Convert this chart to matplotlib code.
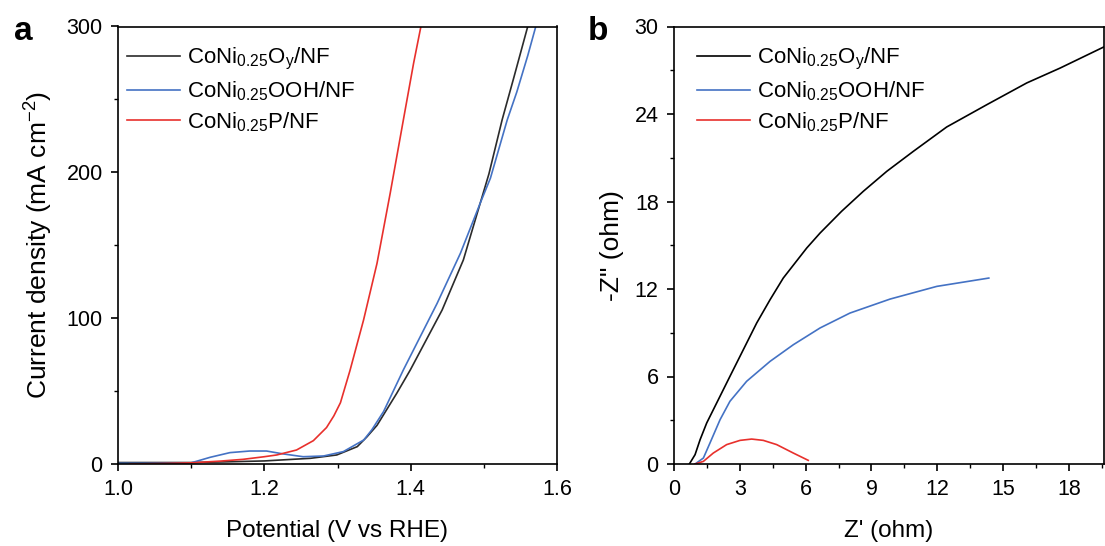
import matplotlib
matplotlib.use("Agg")
import matplotlib.pyplot as plt
from matplotlib.ticker import MultipleLocator

plt.rcParams['font.family'] = ['Liberation Sans', 'DejaVu Sans']
plt.rcParams['mathtext.fontset'] = 'custom'
plt.rcParams['mathtext.rm'] = 'Liberation Sans'
plt.rcParams['mathtext.it'] = 'Liberation Sans:italic'

# ---------------- data: panel a (LSV) ----------------
a_black_x = [1.0, 1.10, 1.15, 1.20, 1.263, 1.299, 1.327, 1.340, 1.354, 1.381, 1.3995, 1.443, 1.472, 1.491, 1.507, 1.525, 1.541, 1.560]
a_black_y = [1.0, 1.0, 1.5, 2.1, 3.9, 6.2, 11.9, 18.5, 26.5, 48.5, 64.5, 105.6, 139.9, 172, 199, 236, 265, 300]

a_blue_x = [1.0, 1.098, 1.126, 1.153, 1.180, 1.203, 1.226, 1.253, 1.281, 1.308, 1.336, 1.347, 1.363, 1.390, 1.436, 1.468, 1.495, 1.509, 1.532, 1.545, 1.560, 1.571]
a_blue_y = [0.5, 0.5, 4.6, 7.8, 8.9, 8.9, 6.9, 5.0, 5.5, 8.5, 16.5, 23.5, 36, 64.5, 110, 144.5, 178.8, 196, 236, 255, 280, 300]

a_red_x = [1.016, 1.06, 1.10, 1.14, 1.171, 1.20, 1.217, 1.244, 1.267, 1.285, 1.295, 1.304, 1.317, 1.3356, 1.354, 1.372, 1.390, 1.404, 1.414]
a_red_y = [0.0, 0.3, 0.8, 2.0, 3.2, 5.0, 6.2, 9.6, 16, 25, 33, 42, 64, 98.7, 137.6, 185.6, 235.9, 274.8, 300]

# ---------------- data: panel b (Nyquist) ----------------
b_black_x = [0.70, 0.96, 1.19, 1.49, 2.02, 2.55, 3.16, 3.77, 4.38, 4.98, 6.05, 6.66, 7.64, 8.63, 9.70, 10.91, 12.43, 14.26, 16.08, 17.60, 19.65]
b_black_y = [0.0, 0.64, 1.67, 2.81, 4.41, 6.01, 7.84, 9.67, 11.27, 12.75, 14.81, 15.84, 17.33, 18.70, 20.07, 21.44, 23.11, 24.64, 26.13, 27.15, 28.64]

b_blue_x = [0.96, 1.34, 1.64, 2.10, 2.55, 3.31, 4.38, 5.44, 6.66, 8.02, 9.85, 11.98, 14.35]
b_blue_y = [0.0, 0.41, 1.44, 3.04, 4.30, 5.67, 7.04, 8.18, 9.33, 10.35, 11.31, 12.18, 12.75]

b_red_x = [0.96, 1.34, 1.79, 2.40, 3.01, 3.54, 4.07, 4.68, 5.44, 6.12]
b_red_y = [0.0, 0.18, 0.75, 1.33, 1.62, 1.71, 1.62, 1.33, 0.75, 0.25]

labels = [r'CoNi$_{\mathregular{0.25}}$O$_{\mathregular{y}}$/NF',
          r'CoNi$_{\mathregular{0.25}}$OOH/NF',
          r'CoNi$_{\mathregular{0.25}}$P/NF']
col_black_a = '#2b2b2b'
col_black_b = '#000000'
col_blue = '#4472C4'
col_red = '#E8302C'

fig = plt.figure(figsize=(11.05, 5.46), dpi=100)
W, H = 1105, 546
axa = fig.add_axes([118 / W, (H - 464) / H, (557 - 118) / W, (464 - 26.5) / H])
axb = fig.add_axes([674 / W, (H - 464) / H, (1104 - 674) / W, (464 - 26.5) / H])

lw = 1.2
axa.plot(a_black_x, a_black_y, color=col_black_a, lw=lw, label=labels[0])
axa.plot(a_blue_x, a_blue_y, color=col_blue, lw=lw, label=labels[1])
axa.plot(a_red_x, a_red_y, color=col_red, lw=lw, label=labels[2])
axa.set_xlim(1.0, 1.6)
axa.set_ylim(0, 300)
axa.xaxis.set_major_locator(MultipleLocator(0.2))
axa.xaxis.set_minor_locator(MultipleLocator(0.1))
axa.yaxis.set_major_locator(MultipleLocator(100))
axa.yaxis.set_minor_locator(MultipleLocator(50))
axa.set_xticks([1.0, 1.2, 1.4, 1.6])
axa.set_xticklabels(['1.0', '1.2', '1.4', '1.6'])
axa.set_xlabel('Potential (V vs RHE)', fontsize=17.5, labelpad=14)
axa.set_ylabel(r'Current density (mA cm$^{\mathregular{-2}}$)', fontsize=19, labelpad=8)

axb.plot(b_black_x, b_black_y, color=col_black_b, lw=lw, label=labels[0])
axb.plot(b_blue_x, b_blue_y, color=col_blue, lw=lw, label=labels[1])
axb.plot(b_red_x, b_red_y, color=col_red, lw=lw, label=labels[2])
axb.set_xlim(0, 19.6)
axb.set_ylim(0, 30)
axb.xaxis.set_major_locator(MultipleLocator(3))
axb.xaxis.set_minor_locator(MultipleLocator(1.5))
axb.yaxis.set_major_locator(MultipleLocator(6))
axb.yaxis.set_minor_locator(MultipleLocator(3))
axb.set_xlabel("Z' (ohm)", fontsize=17.5, labelpad=14)
axb.set_ylabel('-Z" (ohm)', fontsize=19, labelpad=8)

for ax in (axa, axb):
    for s in ax.spines.values():
        s.set_linewidth(1.2)
    ax.tick_params(which='major', direction='out', length=5, width=1.2, labelsize=15.5, pad=6)
    ax.tick_params(which='minor', direction='out', length=3, width=1.0)
    ax.tick_params(which='both', top=False, right=False)

leg_kw = dict(loc='upper left', frameon=False, fontsize=16, handlelength=2.4,
              handletextpad=0.3, labelspacing=0.32, borderaxespad=0.0, borderpad=0.0)
axa.legend(bbox_to_anchor=(0.0205, 0.955), **leg_kw)
axb.legend(bbox_to_anchor=(0.0535, 0.955), **leg_kw)

fig.text(14 / W, 1 - 32 / H, 'a', fontsize=24, fontweight='bold', va='center', ha='left')
fig.text(588 / W, 1 - 32 / H, 'b', fontsize=24, fontweight='bold', va='center', ha='left')

fig.savefig('out.png', dpi=100)
